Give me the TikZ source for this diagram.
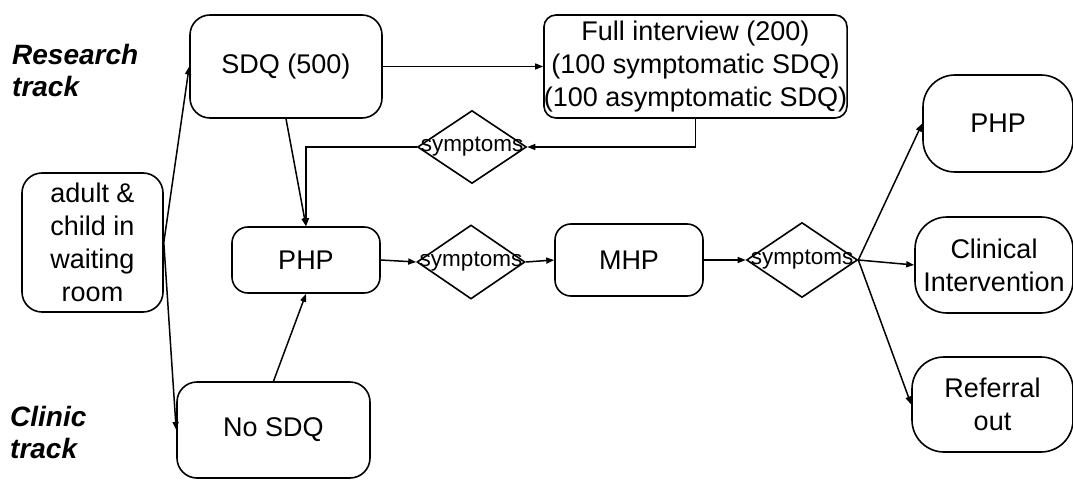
\documentclass[tikz,border=0pt]{standalone}
\usepackage{fontspec}
\setmainfont{Liberation Sans}
\usetikzlibrary{arrows.meta,positioning,calc}
\usetikzlibrary{shapes.geometric}

\begin{document}
\begin{tikzpicture}[
  x=1pt, y=-1pt,
  every node/.style={font=\fontsize{27}{33}\selectfont},
  box/.style={draw, rectangle, rounded corners=16pt, line width=1.6pt,
  inner sep=0pt, align=center},
  bigbox/.style={box, rounded corners=32pt},
  sym/.style={draw, diamond, line width=1.6pt, inner sep=0pt,
  font=\fontsize{22.5}{24}\selectfont},
  track/.style={font=\fontsize{28}{32}\selectfont\bfseries\itshape,
  align=left, anchor=north west, inner sep=0pt},
  arr/.style={-{Triangle[length=8pt,width=6pt]}, line width=1.5pt}
]
\useasboundingbox (0,0) rectangle (1073,481);
% track labels
\node[track] (research) at (12,44) {Research\\track};
\node[track] (clinic) at (10,406) {Clinic\\track};
% entry and screening
\node[box, rounded corners=20pt, minimum width=141pt, minimum height=139pt] (adult) at (92.5,242.5) {adult \&\\child in\\waiting\\room};
\node[box, rounded corners=20pt, minimum width=192pt, minimum height=103pt] (sdq) at (286,66.5) {SDQ (500)};
\node[box, rounded corners=12pt, minimum width=295pt, minimum height=103pt] (full) at (695.5,66.5) {Full interview (200)\\(100 symptomatic SDQ)\\(100 asymptomatic SDQ)};
\node[box, rounded corners=20pt, minimum width=193pt, minimum height=96pt] (nosdq) at (273.5,430) {No SDQ};
% middle row
\node[box, minimum width=148pt, minimum height=66pt] (php) at (306,260) {PHP};
\node[box, minimum width=148pt, minimum height=72pt] (mhp) at (629,260) {MHP};
% decisions
\node[sym, minimum width=109pt, minimum height=73pt] (d1) at (472,147) {\makebox[0pt]{symptoms}};
\node[sym, minimum width=108pt, minimum height=74pt] (d2) at (471,262) {\makebox[0pt]{symptoms}};
\node[sym, minimum width=111pt, minimum height=75pt] (d3) at (802,260) {\makebox[0pt]{symptoms}};
% outcomes
\node[bigbox, minimum width=150pt, minimum height=97pt] (rphp) at (998,123.5) {PHP};
\node[bigbox, minimum width=158pt, minimum height=96pt] (clin) at (994,265) {Clinical\\Intervention};
\node[bigbox, minimum width=161pt, minimum height=95pt] (refer) at (992.5,404.5) {Referral\\out};
% edges with arrows
\foreach \a/\b in {adult.east/sdq.west, adult.east/nosdq.west, sdq.east/full.west, sdq.south/php.north, nosdq.north/php.south, php.east/d2.west, d2.east/mhp.west, mhp.east/d3.west, d3.east/rphp.west, d3.east/clin.west, d3.east/refer.west}
  \draw[arr] (\a) -- (\b);
\draw[arr] (full.south) |- (d1.east);
\draw[arr] (d1.west) -| (php.north);
\end{tikzpicture}
\end{document}
